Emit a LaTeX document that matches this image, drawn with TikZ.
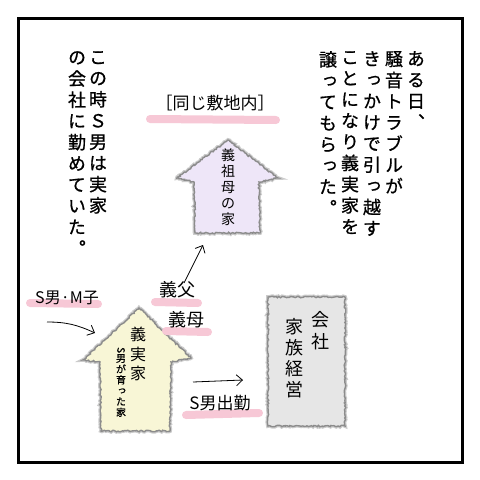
\documentclass[tikz,border=0pt]{standalone}
\usepackage{fontspec}
\usepackage{graphicx}
\usetikzlibrary{arrows.meta,decorations.pathmorphing}
\newfontfamily\jpfont{Noto Sans CJK JP}
\newfontfamily\jpv[RawFeature=+vert, FakeBold=0.8]{Noto Sans CJK JP}
\definecolor{pinkHL}{RGB}{247,200,214}
\definecolor{houseViolet}{RGB}{238,230,248}
\definecolor{houseYellow}{RGB}{248,246,214}
\definecolor{officeGray}{RGB}{230,230,230}
\definecolor{pencilGray}{RGB}{140,140,140}

\begin{document}
\begin{tikzpicture}[x=1pt, y=-1pt,
    tate/.style={align=center, inner sep=0pt, anchor=north},
    narr/.style={tate, font=\fontsize{18}{21.2}\jpv},
    hand/.style={inner sep=0pt, font=\fontsize{16}{18}\jpfont},
    marker/.style={pinkHL, line width=8pt, line cap=round},
    pencil/.style={draw=pencilGray, line width=1.4pt, decorate,
                   decoration={random steps, segment length=1.5pt, amplitude=0.8pt},
                   preaction={draw=pencilGray!45, line width=3.8pt}},
    hand arrow/.style={-{Straight Barb[length=6pt,width=11pt]}, line width=0.8pt}
]
    \useasboundingbox (0,0) rectangle (480,480);
    \fill[white] (0,0) rectangle (480,480);
    \draw[line width=3pt] (18,18) rectangle (462,462);

    % narration, right to left
    \node[narr] (aruhi)   at (416,51) {あ\\る\\日\\、};
    \node[narr] (souon)   at (394,51) {騒\\音\\ト\\ラ\\ブ\\ル\\が};
    \node[narr] (kikkake) at (372,51) {き\\っ\\か\\け\\で\\引\\っ\\越\\す};
    \node[narr] (kotoni)  at (350,51) {こ\\と\\に\\な\\り\\義\\実\\家\\を};
    \node[narr] (yuzutte) at (328,51) {譲\\っ\\て\\も\\ら\\っ\\た\\。};

    \node[narr] (konotoki) at (98,51) {こ\\の\\時\\Ｓ\\男\\は\\実\\家};
    \node[narr] (tsutome)  at (77,51) {の\\会\\社\\に\\勤\\め\\て\\い\\た\\。};

    % houses and office
    \draw[pencil, fill=houseViolet] (228,140) -- (278,178) -- (259,182) -- (260,233)
        -- (195,233) -- (194,182) -- (177,178) -- cycle;
    \draw[pencil, fill=houseYellow] (139,308) -- (191,358) -- (171,362) -- (170,431)
        -- (101,431) -- (100,362) -- (83,360) -- cycle;
    \draw[pencil, fill=officeGray] (268,297) rectangle (345,426);

    \node[tate, font=\fontsize{14}{16}\jpfont] (sobo) at (228,149) {義\\祖\\母\\の\\家};
    \node[tate, font=\fontsize{16}{19.5}\jpfont] (jikka) at (138,327) {義\\実\\家};
    \node[tate, font=\fontsize{10}{10.8}\jpv] (sodatta) at (121,347)
        {\rotatebox{-90}{S}\\男\\が\\育\\っ\\た\\家};
    \node[tate, font=\fontsize{18}{22}\jpfont] (kaisha) at (320,311) {会\\社};
    \node[tate, font=\fontsize{18}{21}\jpfont] (kazoku) at (294,318) {家\\族\\経\\営};

    % highlighter strokes, then labels
    \draw[marker] (150,119) -- (276,120);
    \draw[marker] (30,303) -- (98,304);
    \draw[marker] (155,302) -- (198,303);
    \draw[marker] (166,331) -- (208,332);
    \draw[marker] (186,415) -- (259,413);

    \node[hand, font=\fontsize{17}{20}\jpfont] (shikichi) at (215,103) {［同じ敷地内］};
    \node[hand] (fuufu) at (67,298) {S男·M子};
    \node[hand, font=\fontsize{18}{20}\jpfont] (gifu) at (177,290) {義父};
    \node[hand, font=\fontsize{18}{20}\jpfont] (gibo) at (186,320) {義母};
    \node[hand, font=\fontsize{17}{20}\jpfont] (shukkin) at (220,403) {S男出勤};

    % arrows
    \coordinate (moveS) at (47,322);
    \coordinate (moveE) at (95,333);
    \coordinate (upS) at (184,283);
    \coordinate (upE) at (203,245);
    \coordinate (workS) at (193,382);
    \coordinate (workE) at (243,380);
    \draw[hand arrow] (moveS) to[out=0, in=155] (moveE);
    \draw[hand arrow] (upS) -- (upE);
    \draw[hand arrow] (workS) -- (workE);
\end{tikzpicture}
\end{document}
